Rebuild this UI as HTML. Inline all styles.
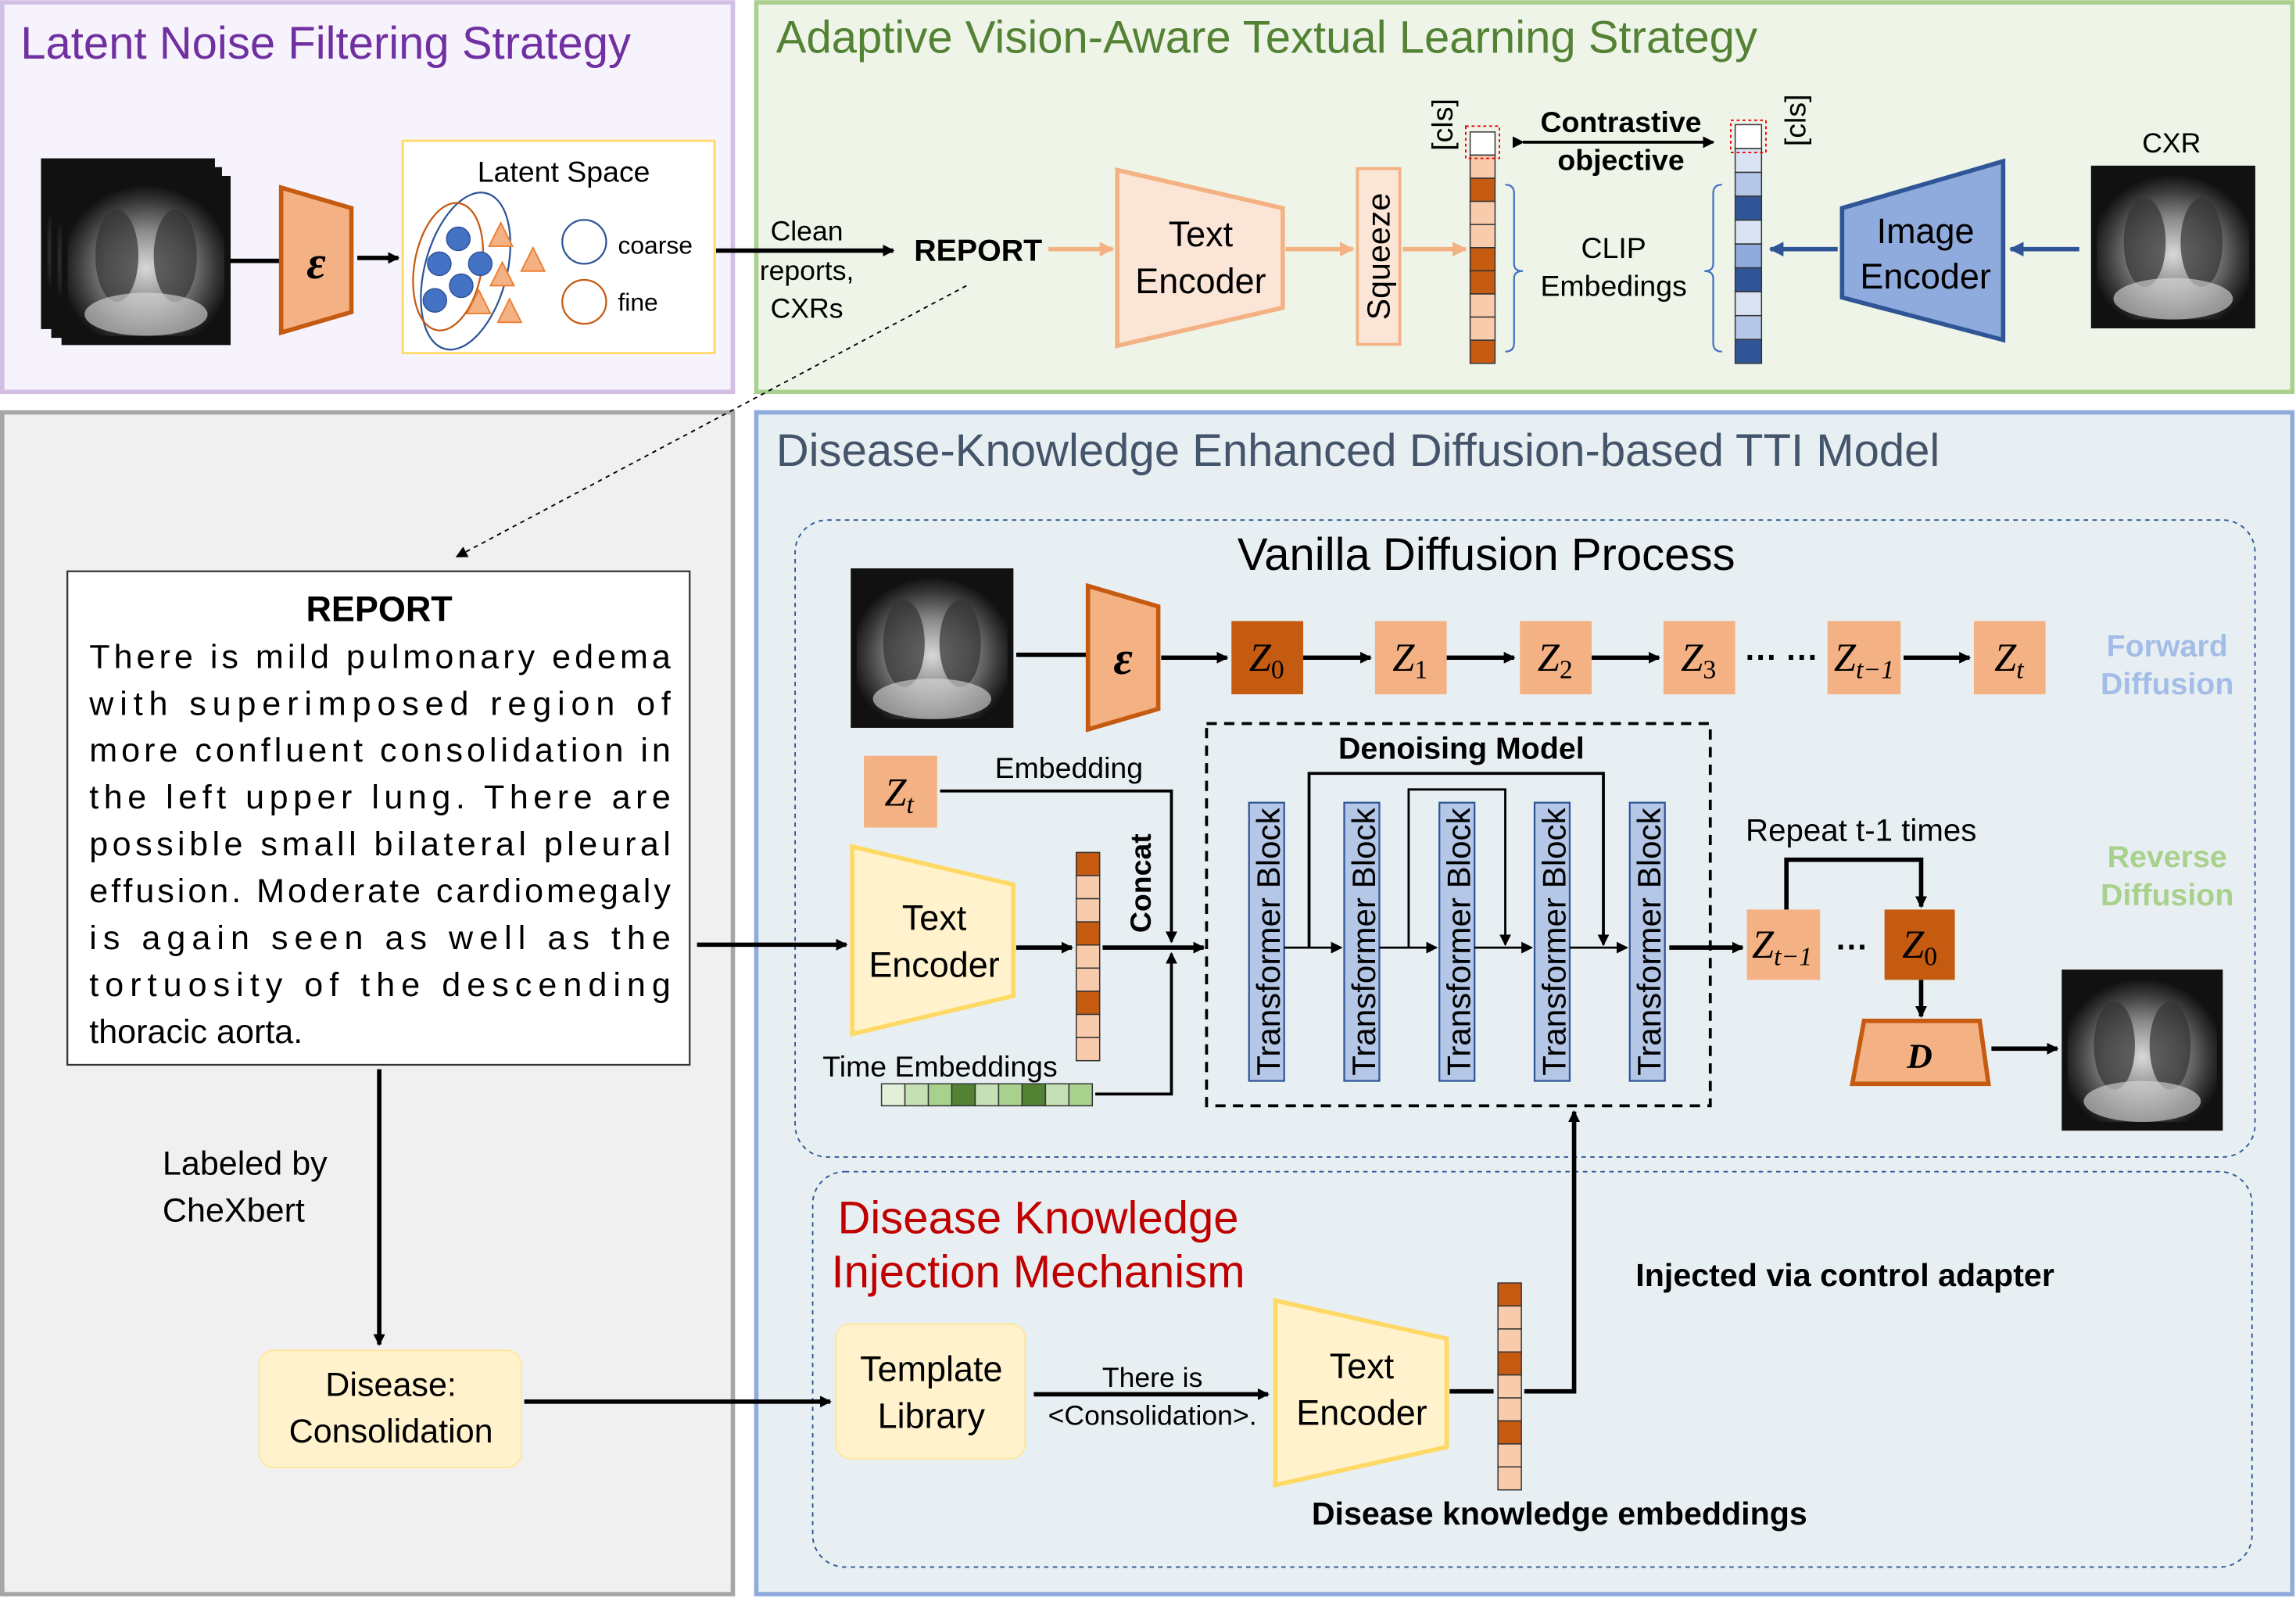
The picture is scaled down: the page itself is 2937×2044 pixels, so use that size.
<!DOCTYPE html>
<html><head><meta charset="utf-8"><style>html,body{margin:0;padding:0;background:#fff}svg{display:block}</style></head><body>
<svg width="2937" height="2044" viewBox="0 0 1568 1091" xmlns="http://www.w3.org/2000/svg" font-family="Liberation Sans, sans-serif">
<defs>
<radialGradient id="xg" cx="50%" cy="55%" r="55%"><stop offset="0" stop-color="#d8d8d8"/><stop offset="0.45" stop-color="#8a8a8a"/><stop offset="0.8" stop-color="#3a3a3a"/><stop offset="1" stop-color="#111"/></radialGradient>
<marker id="a" markerWidth="8" markerHeight="8" refX="7" refY="4" orient="auto" markerUnits="userSpaceOnUse"><path d="M0,0 L8,4 L0,8 z" fill="#000"/></marker>
<marker id="ao" markerWidth="10" markerHeight="10" refX="9" refY="5" orient="auto" markerUnits="userSpaceOnUse"><path d="M0,0 L10,5 L0,10 z" fill="#f4b183"/></marker>
<marker id="abl" markerWidth="10" markerHeight="10" refX="9" refY="5" orient="auto" markerUnits="userSpaceOnUse"><path d="M0,0 L10,5 L0,10 z" fill="#2f5597"/></marker>
<g id="xr"><rect x="0" y="0" width="110" height="110" fill="#111"/><rect x="4" y="6" width="102" height="98" fill="url(#xg)"/><ellipse cx="36" cy="52" rx="14" ry="30" fill="#333" opacity="0.7"/><ellipse cx="74" cy="52" rx="14" ry="30" fill="#333" opacity="0.7"/><ellipse cx="55" cy="90" rx="40" ry="14" fill="#ddd" opacity="0.6"/></g>
</defs>
<rect width="1568" height="1091" fill="#fff"/>
<rect x="1.5" y="1.5" width="499" height="266" fill="#f6f3fd" stroke="#d2bfe3" stroke-width="3"/>
<rect x="516.5" y="1.5" width="1049" height="266" fill="#eef5e8" stroke="#a9d08e" stroke-width="3"/>
<rect x="1.5" y="281.5" width="499" height="807" fill="#f0f0f0" stroke="#a6a6a6" stroke-width="3"/>
<rect x="516.5" y="281.5" width="1049" height="807" fill="#e8eff2" stroke="#8faadc" stroke-width="3"/>
<text x="14" y="40" font-size="31" fill="#7030a0">Latent Noise Filtering Strategy</text>
<text x="530" y="36" font-size="31" fill="#548235">Adaptive Vision-Aware Textual Learning Strategy</text>
<text x="530" y="318" font-size="31" fill="#44546a">Disease-Knowledge Enhanced Diffusion-based TTI Model</text>
<rect x="543" y="355" width="997" height="435" rx="22" fill="none" stroke="#2f5597" stroke-dasharray="3,3"/>
<rect x="555" y="800" width="983" height="270" rx="22" fill="none" stroke="#2f5597" stroke-dasharray="3,3"/>

<use href="#xr" transform="translate(28,108) scale(1.08,1.06)"/>
<use href="#xr" transform="translate(35,114) scale(1.06,1.06)"/>
<use href="#xr" transform="translate(42,120) scale(1.05,1.05)"/>
<line x1="157" y1="178" x2="192" y2="178" stroke="#000" stroke-width="3"/>
<polygon points="192,128 240,142 240,213 192,227" fill="#f4b183" stroke="#c55a11" stroke-width="3"/>
<text x="216" y="190" font-size="32" font-weight="bold" font-style="italic" font-family="Liberation Serif, serif" text-anchor="middle">ε</text>
<line x1="244" y1="176" x2="272" y2="176" stroke="#000" stroke-width="3" marker-end="url(#a)"/>
<rect x="275" y="96" width="213" height="145" fill="#fff" stroke="#ffd966" stroke-width="1.5"/>
<text x="385" y="124" font-size="20" text-anchor="middle">Latent Space</text>
<ellipse cx="318" cy="185" rx="28" ry="55" transform="rotate(15 318 185)" fill="none" stroke="#2f5597" stroke-width="1.2"/>
<ellipse cx="306" cy="182" rx="23" ry="44" transform="rotate(10 306 182)" fill="none" stroke="#c55a11" stroke-width="1.2"/>
<g fill="#4472c4" stroke="#2f5597" stroke-width="0.8"><circle cx="313" cy="163" r="8"/><circle cx="300" cy="180" r="8"/><circle cx="328" cy="180" r="8"/><circle cx="315" cy="195" r="8"/><circle cx="297" cy="205" r="8"/></g>
<g fill="#f4b183" stroke="#ed7d31" stroke-width="1"><polygon points="342,152 334,168 350,168"/><polygon points="364,169 356,185 372,185"/><polygon points="343,179 335,195 351,195"/><polygon points="327,198 319,214 335,214"/><polygon points="348,204 340,220 356,220"/></g>
<circle cx="399" cy="165" r="15" fill="none" stroke="#2f5597" stroke-width="1.2"/>
<circle cx="399" cy="206" r="15" fill="none" stroke="#c55a11" stroke-width="1.2"/>
<text x="422" y="173" font-size="17">coarse</text>
<text x="422" y="212" font-size="17">fine</text>

<line x1="489" y1="171" x2="610" y2="171" stroke="#000" stroke-width="3" marker-end="url(#a)"/>
<g font-size="19" text-anchor="middle"><text x="551" y="164">Clean</text><text x="551" y="191">reports,</text><text x="551" y="217">CXRs</text></g>
<text x="668" y="178" font-size="21" font-weight="bold" text-anchor="middle">REPORT</text>
<line x1="716" y1="170" x2="760" y2="170" stroke="#f4b183" stroke-width="3" marker-end="url(#ao)"/>
<polygon points="763,116 876,142 876,210 763,236" fill="#fbe5d6" stroke="#f4b183" stroke-width="3"/>
<text x="820" y="168" font-size="24" text-anchor="middle">Text</text><text x="820" y="200" font-size="24" text-anchor="middle">Encoder</text>
<line x1="878" y1="170" x2="924" y2="170" stroke="#f4b183" stroke-width="3" marker-end="url(#ao)"/>
<rect x="927" y="115" width="29" height="120" fill="#fbe5d6" stroke="#f4b183" stroke-width="2"/>
<text transform="translate(949,175) rotate(-90)" font-size="22" text-anchor="middle">Squeeze</text>
<line x1="958" y1="170" x2="1001" y2="170" stroke="#f4b183" stroke-width="3" marker-end="url(#ao)"/>
<g stroke="#333" stroke-width="0.8">
<rect x="1004" y="90" width="17" height="15.8" fill="#fff"/>
<rect x="1004" y="105.8" width="17" height="15.8" fill="#f8cbad"/>
<rect x="1004" y="121.6" width="17" height="15.8" fill="#c55a11"/>
<rect x="1004" y="137.4" width="17" height="15.8" fill="#f8cbad"/>
<rect x="1004" y="153.2" width="17" height="15.8" fill="#f8cbad"/>
<rect x="1004" y="169" width="17" height="15.8" fill="#c55a11"/>
<rect x="1004" y="184.8" width="17" height="15.8" fill="#c55a11"/>
<rect x="1004" y="200.6" width="17" height="15.8" fill="#f8cbad"/>
<rect x="1004" y="216.4" width="17" height="15.8" fill="#f8cbad"/>
<rect x="1004" y="232.2" width="17" height="15.8" fill="#c55a11"/>
<rect x="1185" y="85" width="18" height="16.3" fill="#fff"/>
<rect x="1185" y="101.3" width="18" height="16.3" fill="#dae3f3"/>
<rect x="1185" y="117.6" width="18" height="16.3" fill="#b4c7e7"/>
<rect x="1185" y="133.9" width="18" height="16.3" fill="#2f5597"/>
<rect x="1185" y="150.2" width="18" height="16.3" fill="#dae3f3"/>
<rect x="1185" y="166.5" width="18" height="16.3" fill="#8faadc"/>
<rect x="1185" y="182.8" width="18" height="16.3" fill="#2f5597"/>
<rect x="1185" y="199.1" width="18" height="16.3" fill="#dae3f3"/>
<rect x="1185" y="215.4" width="18" height="16.3" fill="#b4c7e7"/>
<rect x="1185" y="231.7" width="18" height="16.3" fill="#2f5597"/>
</g>
<rect x="1001" y="86" width="23" height="22" fill="none" stroke="#e00" stroke-dasharray="2,2"/>
<rect x="1182" y="82" width="24" height="22" fill="none" stroke="#e00" stroke-dasharray="2,2"/>
<text transform="translate(992,85) rotate(-90)" font-size="20" text-anchor="middle">[cls]</text>
<text transform="translate(1233,82) rotate(-90)" font-size="20" text-anchor="middle">[cls]</text>
<text x="1107" y="90" font-size="20" font-weight="bold" text-anchor="middle">Contrastive</text>
<text x="1107" y="116" font-size="20" font-weight="bold" text-anchor="middle">objective</text>
<line x1="1040" y1="97" x2="1170" y2="97" stroke="#000" stroke-width="2" marker-end="url(#a)" marker-start="url(#a)"/>
<path d="M1028,126 q6,0 6,6 v48 q0,5 6,5 q-6,0 -6,5 v44 q0,6 -6,6" fill="none" stroke="#4472c4" stroke-width="1.2"/>
<path d="M1176,126 q-6,0 -6,6 v48 q0,5 -6,5 q6,0 6,5 v44 q0,6 6,6" fill="none" stroke="#4472c4" stroke-width="1.2"/>
<text x="1102" y="176" font-size="20" text-anchor="middle">CLIP</text><text x="1102" y="202" font-size="20" text-anchor="middle">Embedings</text>
<line x1="1255" y1="170" x2="1209" y2="170" stroke="#2f5597" stroke-width="3" marker-end="url(#abl)"/>
<polygon points="1258,142 1368,110 1368,232 1258,203" fill="#8faadc" stroke="#2f5597" stroke-width="3"/>
<text x="1315" y="166" font-size="24" text-anchor="middle">Image</text><text x="1315" y="197" font-size="24" text-anchor="middle">Encoder</text>
<line x1="1420" y1="170" x2="1373" y2="170" stroke="#2f5597" stroke-width="3" marker-end="url(#abl)"/>
<text x="1483" y="104" font-size="19" text-anchor="middle">CXR</text>
<use href="#xr" transform="translate(1428,113) scale(1.02,1.01)"/>
<line x1="660" y1="195" x2="312" y2="380" stroke="#000" stroke-width="1" stroke-dasharray="3,3" marker-end="url(#a)"/>

<rect x="46" y="390" width="425" height="337" fill="#fff" stroke="#333" stroke-width="1.2"/>
<text x="259" y="424" font-size="24" font-weight="bold" text-anchor="middle">REPORT</text>
<g font-size="23" lengthAdjust="spacing">
<text x="61" y="456" textLength="397">There is mild pulmonary edema</text>
<text x="61" y="488" textLength="397">with superimposed region of</text>
<text x="61" y="520" textLength="397">more confluent consolidation in</text>
<text x="61" y="552" textLength="397">the left upper lung. There are</text>
<text x="61" y="584" textLength="397">possible small bilateral pleural</text>
<text x="61" y="616" textLength="397">effusion. Moderate cardiomegaly</text>
<text x="61" y="648" textLength="397">is again seen as well as the</text>
<text x="61" y="680" textLength="397">tortuosity of the descending</text>
<text x="61" y="712">thoracic aorta.</text>
</g>
<line x1="259" y1="730" x2="259" y2="918" stroke="#000" stroke-width="3" marker-end="url(#a)"/>
<text x="111" y="802" font-size="23">Labeled by</text><text x="111" y="834" font-size="23">CheXbert</text>
<rect x="177" y="922" width="179" height="80" rx="10" fill="#fff2cc" stroke="#ffe699"/>
<text x="267" y="953" font-size="23" text-anchor="middle">Disease:</text><text x="267" y="985" font-size="23" text-anchor="middle">Consolidation</text>
<line x1="358" y1="957" x2="567" y2="957" stroke="#000" stroke-width="3" marker-end="url(#a)"/>
<line x1="476" y1="645" x2="578" y2="645" stroke="#000" stroke-width="3" marker-end="url(#a)"/>

<text x="1015" y="389" font-size="31" text-anchor="middle">Vanilla Diffusion Process</text>
<use href="#xr" transform="translate(581,388) scale(1.01,0.99)"/>
<line x1="694" y1="447" x2="742" y2="447" stroke="#000" stroke-width="3"/>
<polygon points="743,400 791,414 791,484 743,498" fill="#f4b183" stroke="#c55a11" stroke-width="3"/>
<text x="767" y="460" font-size="32" font-weight="bold" font-style="italic" font-family="Liberation Serif, serif" text-anchor="middle">ε</text>
<g stroke="#000" stroke-width="3">
<line x1="793" y1="449" x2="838" y2="449" marker-end="url(#a)"/>
<line x1="890" y1="449" x2="936" y2="449" marker-end="url(#a)"/>
<line x1="988" y1="449" x2="1034" y2="449" marker-end="url(#a)"/>
<line x1="1087" y1="449" x2="1133" y2="449" marker-end="url(#a)"/>
<line x1="1300" y1="449" x2="1345" y2="449" marker-end="url(#a)"/>
</g>
<g font-family="Liberation Serif, serif" font-style="italic" font-size="27" text-anchor="middle">
<rect x="841" y="424" width="49" height="50" fill="#c55a11"/><text x="865" y="458">Z<tspan font-size="18" font-style="normal" dy="5">0</tspan></text>
<rect x="939" y="424" width="49" height="50" fill="#f4b183"/><text x="963" y="458">Z<tspan font-size="18" font-style="normal" dy="5">1</tspan></text>
<rect x="1038" y="424" width="49" height="50" fill="#f4b183"/><text x="1062" y="458">Z<tspan font-size="18" font-style="normal" dy="5">2</tspan></text>
<rect x="1136" y="424" width="49" height="50" fill="#f4b183"/><text x="1160" y="458">Z<tspan font-size="18" font-style="normal" dy="5">3</tspan></text>
<rect x="1248" y="424" width="50" height="50" fill="#f4b183"/><text x="1273" y="458">Z<tspan font-size="18" dy="5">t−1</tspan></text>
<rect x="1348" y="424" width="49" height="50" fill="#f4b183"/><text x="1372" y="458">Z<tspan font-size="18" dy="5">t</tspan></text>
<rect x="590" y="516" width="50" height="49" fill="#f4b183"/><text x="614" y="550">Z<tspan font-size="18" dy="5">t</tspan></text>
<rect x="1193" y="621" width="50" height="48" fill="#f4b183"/><text x="1217" y="654">Z<tspan font-size="18" dy="5">t−1</tspan></text>
<rect x="1287" y="621" width="48" height="48" fill="#c55a11"/><text x="1311" y="654">Z<tspan font-size="18" font-style="normal" dy="5">0</tspan></text>
</g>
<text x="1217" y="456" font-size="22" font-weight="bold" text-anchor="middle">··· ···</text>
<text x="1265" y="654" font-size="22" font-weight="bold" text-anchor="middle">···</text>
<g font-size="21" font-weight="bold" text-anchor="middle"><text x="1480" y="448" fill="#a4bde8">Forward</text><text x="1480" y="474" fill="#a4bde8">Diffusion</text><text x="1480" y="592" fill="#a9d18e">Reverse</text><text x="1480" y="618" fill="#a9d18e">Diffusion</text></g>
<polyline points="642,540 800,540 800,643" fill="none" stroke="#000" stroke-width="2" marker-end="url(#a)"/>
<text x="730" y="531" font-size="20" text-anchor="middle">Embedding</text>
<polygon points="582,578 692,604 692,680 582,706" fill="#fff2cc" stroke="#ffd966" stroke-width="3"/>
<text x="638" y="635" font-size="24" text-anchor="middle">Text</text><text x="638" y="667" font-size="24" text-anchor="middle">Encoder</text>
<line x1="694" y1="647" x2="732" y2="647" stroke="#000" stroke-width="3" marker-end="url(#a)"/>
<g stroke="#333" stroke-width="0.8">
<rect x="735" y="582" width="16" height="15.8" fill="#c55a11"/><rect x="735" y="597.8" width="16" height="15.8" fill="#f8cbad"/><rect x="735" y="613.6" width="16" height="15.8" fill="#f8cbad"/><rect x="735" y="629.4" width="16" height="15.8" fill="#c55a11"/><rect x="735" y="645.2" width="16" height="15.8" fill="#f8cbad"/><rect x="735" y="661" width="16" height="15.8" fill="#f8cbad"/><rect x="735" y="676.8" width="16" height="15.8" fill="#c55a11"/><rect x="735" y="692.6" width="16" height="15.8" fill="#f8cbad"/><rect x="735" y="708.4" width="16" height="15.8" fill="#f8cbad"/>
<rect x="1023" y="876" width="16" height="15.7" fill="#c55a11"/><rect x="1023" y="891.7" width="16" height="15.7" fill="#f8cbad"/><rect x="1023" y="907.4" width="16" height="15.7" fill="#f8cbad"/><rect x="1023" y="923.1" width="16" height="15.7" fill="#c55a11"/><rect x="1023" y="938.8" width="16" height="15.7" fill="#f8cbad"/><rect x="1023" y="954.5" width="16" height="15.7" fill="#f8cbad"/><rect x="1023" y="970.2" width="16" height="15.7" fill="#c55a11"/><rect x="1023" y="985.9" width="16" height="15.7" fill="#f8cbad"/><rect x="1023" y="1001.6" width="16" height="15.7" fill="#f8cbad"/>
<rect x="602" y="740" width="16" height="15" fill="#e2f0d9"/><rect x="618" y="740" width="16" height="15" fill="#c5e0b4"/><rect x="634" y="740" width="16" height="15" fill="#a9d18e"/><rect x="650" y="740" width="16" height="15" fill="#548235"/><rect x="666" y="740" width="16" height="15" fill="#c5e0b4"/><rect x="682" y="740" width="16" height="15" fill="#a9d18e"/><rect x="698" y="740" width="16" height="15" fill="#548235"/><rect x="714" y="740" width="16" height="15" fill="#c5e0b4"/><rect x="730" y="740" width="16" height="15" fill="#a9d18e"/>
</g>
<line x1="753" y1="647" x2="822" y2="647" stroke="#000" stroke-width="3" marker-end="url(#a)"/>
<text transform="translate(786,603) rotate(-90)" font-size="20" font-weight="bold" text-anchor="middle">Concat</text>
<text x="642" y="735" font-size="20" text-anchor="middle">Time Embeddings</text>
<polyline points="748,747 800,747 800,651" fill="none" stroke="#000" stroke-width="2" marker-end="url(#a)"/>
<rect x="824" y="494" width="344" height="261" fill="none" stroke="#000" stroke-width="2" stroke-dasharray="7,5"/>
<text x="998" y="518" font-size="21" font-weight="bold" text-anchor="middle">Denoising Model</text>
<g fill="#b4c7e7" stroke="#2f5597" stroke-width="1.2">
<rect x="853" y="548" width="24" height="190"/><rect x="918" y="548" width="24" height="190"/><rect x="983" y="548" width="24" height="190"/><rect x="1048" y="548" width="24" height="190"/><rect x="1113" y="548" width="24" height="190"/>
</g>
<g font-size="22.5" text-anchor="middle">
<text transform="translate(874,643) rotate(-90)">Transformer Block</text>
<text transform="translate(939,643) rotate(-90)">Transformer Block</text>
<text transform="translate(1004,643) rotate(-90)">Transformer Block</text>
<text transform="translate(1069,643) rotate(-90)">Transformer Block</text>
<text transform="translate(1134,643) rotate(-90)">Transformer Block</text>
</g>
<g stroke="#000" stroke-width="1.5" fill="none">
<line x1="877" y1="647" x2="916" y2="647" marker-end="url(#a)"/>
<line x1="942" y1="647" x2="981" y2="647" marker-end="url(#a)"/>
<line x1="1007" y1="647" x2="1046" y2="647" marker-end="url(#a)"/>
<line x1="1072" y1="647" x2="1111" y2="647" marker-end="url(#a)"/>
<polyline points="894,647 894,528 1095,528 1095,645" marker-end="url(#a)" stroke-width="2"/>
<polyline points="962,647 962,539 1028,539 1028,645" marker-end="url(#a)"/>
</g>
<line x1="1140" y1="647" x2="1190" y2="647" stroke="#000" stroke-width="3" marker-end="url(#a)"/>
<polyline points="1220,621 1220,587 1312,587 1312,619" fill="none" stroke="#000" stroke-width="3" marker-end="url(#a)"/>
<text x="1271" y="574" font-size="21.5" text-anchor="middle">Repeat t-1 times</text>
<line x1="1312" y1="669" x2="1312" y2="694" stroke="#000" stroke-width="3" marker-end="url(#a)"/>
<polygon points="1273,697 1352,697 1358,740 1265,740" fill="#f4b183" stroke="#c55a11" stroke-width="3"/>
<text x="1311" y="729" font-size="24" font-weight="bold" font-style="italic" font-family="Liberation Serif, serif" text-anchor="middle">D</text>
<line x1="1360" y1="716" x2="1405" y2="716" stroke="#000" stroke-width="3" marker-end="url(#a)"/>
<use href="#xr" transform="translate(1408,662)"/>

<text x="709" y="842" font-size="31" fill="#c00000" text-anchor="middle">Disease Knowledge</text>
<text x="709" y="879" font-size="31" fill="#c00000" text-anchor="middle">Injection Mechanism</text>
<rect x="571" y="904" width="129" height="92" rx="10" fill="#fff2cc" stroke="#ffe699"/>
<text x="636" y="943" font-size="24" text-anchor="middle">Template</text><text x="636" y="975" font-size="24" text-anchor="middle">Library</text>
<line x1="706" y1="952" x2="866" y2="952" stroke="#000" stroke-width="3" marker-end="url(#a)"/>
<text x="787" y="947" font-size="19" text-anchor="middle">There is</text><text x="787" y="973" font-size="19" text-anchor="middle">&lt;Consolidation&gt;.</text>
<polygon points="871,888 988,914 988,988 871,1014" fill="#fff2cc" stroke="#ffd966" stroke-width="3"/>
<text x="930" y="941" font-size="24" text-anchor="middle">Text</text><text x="930" y="973" font-size="24" text-anchor="middle">Encoder</text>
<line x1="990" y1="950" x2="1020" y2="950" stroke="#000" stroke-width="3"/>
<polyline points="1041,950 1075,950 1075,759" fill="none" stroke="#000" stroke-width="3" marker-end="url(#a)"/>
<text x="1260" y="878" font-size="22" font-weight="bold" text-anchor="middle">Injected via control adapter</text>
<text x="1065" y="1041" font-size="22" font-weight="bold" text-anchor="middle">Disease knowledge embeddings</text>
</svg>
</body></html>
